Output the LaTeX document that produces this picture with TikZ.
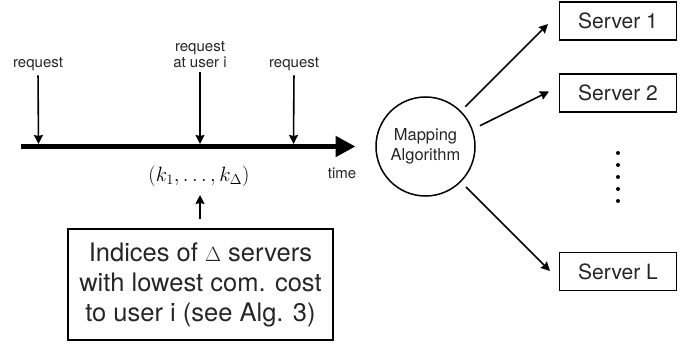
\documentclass[tikz,border=0pt]{standalone}
\usepackage{fontspec}
\setsansfont{TeX Gyre Heros}
\usetikzlibrary{arrows.meta}
\definecolor{txt}{gray}{0.15}
\tikzset{
  lbl/.style={font=\sffamily\fontsize{15}{16}\selectfont,text=txt,align=center,inner sep=0pt},
  serverbox/.style={draw,line width=1.5pt,minimum width=117pt,minimum height=38pt,inner sep=0pt,text=txt,font=\sffamily\fontsize{21}{24}\selectfont},
  conn/.style={line width=1.6pt,-{Stealth[length=9pt,width=9pt,inset=1pt]}},
  dotpt/.style={circle,fill=black,inner sep=0pt,minimum size=4pt},
}
\begin{document}
\begin{tikzpicture}[x=1pt,y=-1pt]
\useasboundingbox (0,0) rectangle (694,345);
\coordinate (tl) at (21,146.5);
\coordinate (tr) at (355.5,146.5);
\draw[line width=5.5pt,-{Stealth[length=20pt,width=20pt,inset=0pt]}] (tl) -- (tr);
\node[lbl,anchor=base] (r1) at (38,67) {request};
\node[lbl,anchor=base] (r2) at (200,67) {request\\at user i};
\node[lbl,anchor=base] (r3) at (294,67) {request};
\node[lbl] (time) at (342,173) {time};
\coordinate (a1) at (38.5,144);
\coordinate (a2) at (200,144);
\coordinate (a3) at (293.5,144);
\draw[conn,shorten <=5pt] (r1.south) -- (a1);
\draw[conn,shorten <=5pt] (r2.south) -- (a2);
\draw[conn,shorten <=5pt] (r3.south) -- (a3);
\node[inner sep=0pt,text=black,font=\fontsize{22.4}{28}\selectfont] (k) at (199,176) {$(k_1,\ldots,k_\Delta)$};
\node[draw,line width=1.5pt,text=txt,font=\sffamily\fontsize{25.5}{30}\selectfont,align=center,minimum width=265pt,minimum height=111pt,inner sep=0pt] (info) at (200.5,284.5) {Indices of {\fontsize{20}{30}\selectfont$\Delta$} servers\\with lowest com. cost\\to user i (see Alg. 3)};
\coordinate (k1) at (200,195);
\draw[conn,shorten <=9pt] (info.north -| k1) -- (k1);
\node[draw,circle,line width=1.5pt,minimum size=99pt,inner sep=0pt,text=txt,font=\sffamily\fontsize{16.5}{19.5}\selectfont,align=center] (map) at (425.5,146.5) {Mapping\\Algorithm};
\node[serverbox] (s1) at (618,21) {Server 1};
\node[serverbox] (s2) at (618,93) {Server 2};
\node[serverbox] (sl) at (618,271.5) {Server L};
\coordinate (e1) at (548,24);
\coordinate (e2) at (549,91.5);
\coordinate (e3) at (550,271);
\draw[conn,shorten <=6pt] (map.45) -- (e1);
\draw[conn,shorten <=8pt] (map.20) -- (e2);
\draw[conn,shorten <=7pt] (map.-45) -- (e3);
\foreach \y/\n in {153/a,165/b,177/c,189/d,201/e}{\node[dotpt] (d\n) at (618,\y) {};}
\end{tikzpicture}
\end{document}
